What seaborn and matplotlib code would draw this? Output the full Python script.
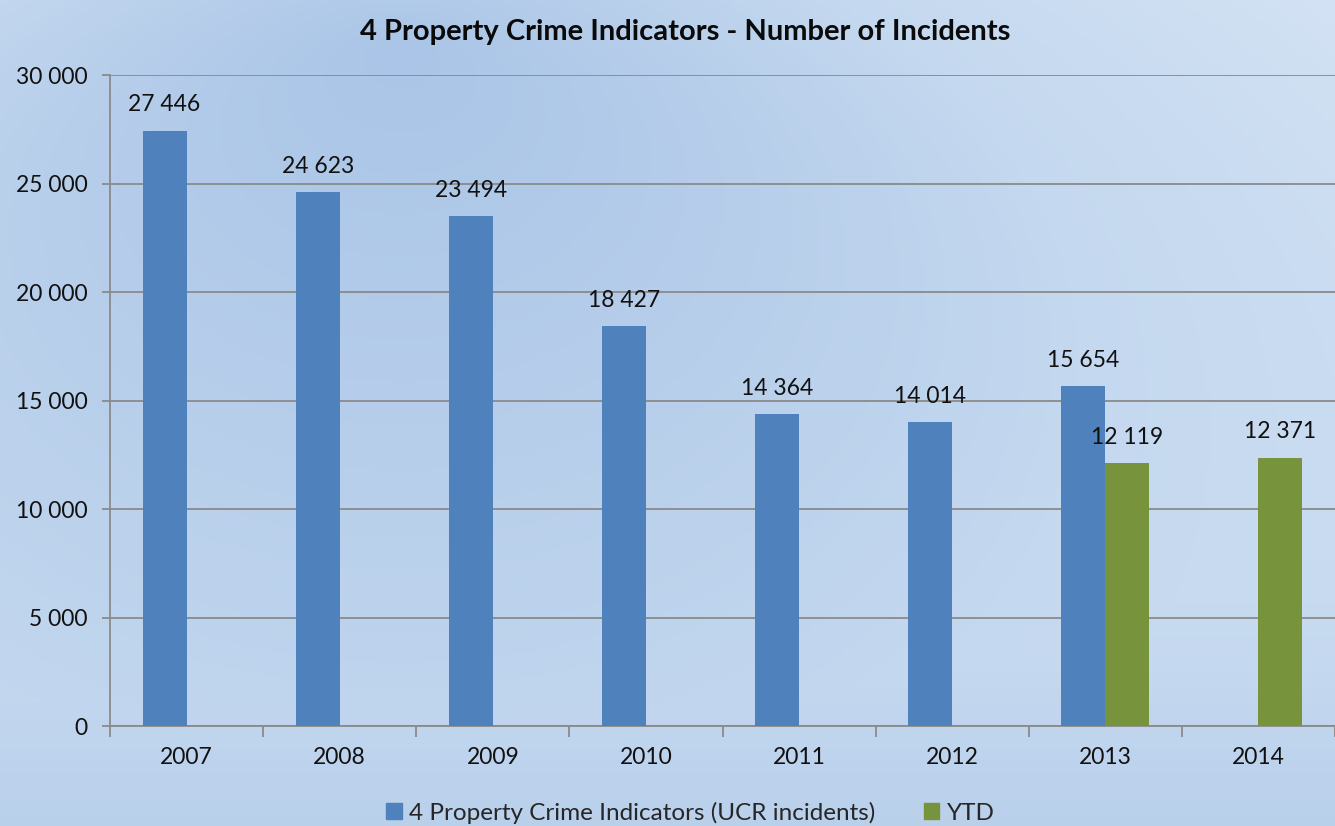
import numpy as np
import pandas as pd
import matplotlib.pyplot as plt
import matplotlib.colors as mcolors
from matplotlib.ticker import FuncFormatter, FixedLocator
from matplotlib.patches import Patch
import seaborn as sns

# data
years = ['2007', '2008', '2009', '2010', '2011', '2012', '2013', '2014']
ucr_incidents = [27446, 24623, 23494, 18427, 14364, 14014, 15654, np.nan]
ytd_incidents = [np.nan, np.nan, np.nan, np.nan, np.nan, np.nan, 12119, 12371]
series_names = ['4 Property Crime Indicators (UCR incidents)', 'YTD']
title = '4 Property Crime Indicators - Number of Incidents'

BLUE, GREEN = '#4F81BD', '#77933C'
GRID = '#8a8a8a'
FS = 16.5

df = pd.concat([
    pd.DataFrame({'year': years, 'series': series_names[0], 'value': ucr_incidents}),
    pd.DataFrame({'year': years, 'series': series_names[1], 'value': ytd_incidents}),
]).dropna()

sns.set_theme(style='white')
plt.rcParams['font.family'] = ['Lato', 'DejaVu Sans']

fig = plt.figure(figsize=(13.35, 8.26), dpi=100)

# soft blue gradient background (like the slide template)
bg = fig.add_axes([0, 0, 1, 1], zorder=-10)
gx, gy = np.meshgrid(np.linspace(0, 1, 300), np.linspace(0, 1, 200))
shade = 0.55 * np.clip(1 - np.hypot(gx - 0.3, (gy - 0.05) * 1.2), 0, 1) + 0.45 * gy
cmap = mcolors.LinearSegmentedColormap.from_list('bg', ['#d3e2f4', '#c4d8ef', '#aac5e7'])
bg.imshow(shade, cmap=cmap, aspect='auto', extent=[0, 1, 0, 1], origin='upper')
bg.axis('off')

ax = fig.add_axes([0.0824, 0.121, 0.9176, 0.788])
ax.patch.set_alpha(0)

sns.barplot(data=df, x='year', y='value', hue='series', order=years,
            hue_order=series_names, palette=[BLUE, GREEN], width=0.575,
            dodge=True, saturation=1, ax=ax, legend=False, zorder=3,
            linewidth=0, edgecolor='none')

for c in ax.containers:
    ax.bar_label(c, fmt=lambda v: f'{v:,.0f}'.replace(',', ' '), padding=11,
                 fontsize=FS, color='#111111')

ax.set_ylim(0, 30000)
ax.set_xlim(-0.5, len(years) - 0.5)
ax.yaxis.set_major_locator(FixedLocator(range(0, 30001, 5000)))
ax.yaxis.set_major_formatter(FuncFormatter(lambda v, p: f'{v:,.0f}'.replace(',', ' ')))
ax.grid(axis='y', color=GRID, lw=1.3, zorder=0)
ax.set_axisbelow(True)
ax.xaxis.set_minor_locator(FixedLocator(np.arange(-0.5, len(years), 1)))
ax.tick_params(axis='x', which='major', length=0, pad=15, labelsize=FS, colors='#111111')
ax.tick_params(axis='x', which='minor', length=8, width=1.3, color=GRID, bottom=True)
ax.tick_params(axis='y', length=6, width=1.3, color=GRID, left=True, pad=10,
               labelsize=FS, labelcolor='#111111')
for s in ['top', 'right']:
    ax.spines[s].set_visible(False)
for s in ['left', 'bottom']:
    ax.spines[s].set_color(GRID)
    ax.spines[s].set_linewidth(1.3)
ax.set_xlabel('')
ax.set_ylabel('')

fig.text(0.513, 0.961, title, ha='center', va='center', fontsize=21,
         fontweight='bold', color='#0a0a0a')

handles = [Patch(color=BLUE, label=series_names[0]), Patch(color=GREEN, label=series_names[1])]
fig.legend(handles=handles, loc='center', bbox_to_anchor=(0.517, 0.016), ncol=2,
           frameon=False, fontsize=17.5, handlelength=0.65, handleheight=0.65,
           handletextpad=0.3, columnspacing=2.0, borderpad=0, borderaxespad=0)

fig.savefig('out.png', dpi=100)
